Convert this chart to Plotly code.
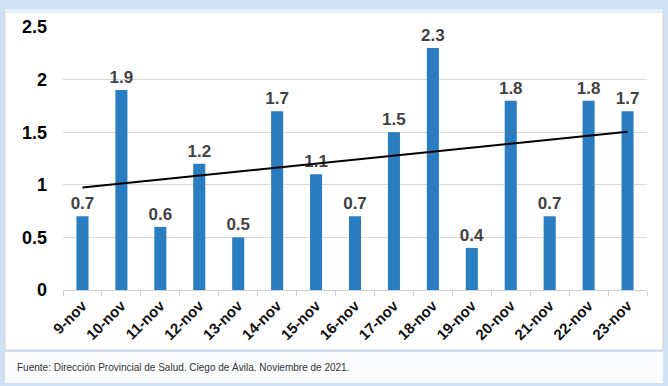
import numpy as np
import plotly.graph_objects as go

categories = ["9-nov", "10-nov", "11-nov", "12-nov", "13-nov", "14-nov", "15-nov", "16-nov",
              "17-nov", "18-nov", "19-nov", "20-nov", "21-nov", "22-nov", "23-nov"]
values = [0.7, 1.9, 0.6, 1.2, 0.5, 1.7, 1.1, 0.7, 1.5, 2.3, 0.4, 1.8, 0.7, 1.8, 1.7]
y_ticks = [0, 0.5, 1, 1.5, 2, 2.5]
y_tick_labels = ["0", "0.5", "1", "1.5", "2", "2.5"]
source_text = "Fuente: Dirección Provincial de Salud. Ciego de Ávila. Noviembre de 2021."

# Linear trendline (least squares, like a spreadsheet trendline)
xi = np.arange(len(values))
slope, intercept = np.polyfit(xi, values, 1)
trend = (slope * xi + intercept).tolist()

W, H = 668, 386
ml, mr, mt, mb = 63, 21, 27, 96
pw, ph = W - ml - mr, H - mt - mb

def px(x):
    return (x - ml) / pw

def py(y):
    return 1 - (y - mt) / ph

fig = go.Figure()
fig.add_trace(go.Bar(
    x=categories, y=values,
    marker=dict(color="#2A7DC0", line=dict(width=0)),
    text=[f"{v:g}" for v in values], textposition="outside",
    constraintext="none",
    textfont=dict(family="Liberation Sans, Arial, sans-serif", size=17, color="#424242"),
    texttemplate="<b>%{text}</b>", cliponaxis=False,
    hoverinfo="skip",
))
fig.add_trace(go.Scatter(
    x=categories, y=trend, mode="lines",
    line=dict(color="black", width=2), hoverinfo="skip",
))

shapes = [
    dict(type="rect", xref="paper", yref="paper", x0=px(5), x1=px(663), y0=py(350), y1=py(12),
         fillcolor="white", line=dict(color="#d4d4d4", width=1), layer="below"),
    dict(type="rect", xref="paper", yref="paper", x0=px(5), x1=px(663), y0=py(383), y1=py(352),
         fillcolor="#fbfcfe", line=dict(width=0), layer="below"),
    dict(type="rect", xref="paper", yref="paper", x0=px(5), x1=px(663), y0=py(12), y1=py(9),
         fillcolor="#e8f1fa", line=dict(width=0), layer="below"),
]

fig.update_layout(
    width=W, height=H,
    margin=dict(l=ml, r=mr, t=mt, b=mb),
    paper_bgcolor="#cfe1f3", plot_bgcolor="rgba(0,0,0,0)",
    showlegend=False, bargap=0.69,
    shapes=shapes,
    annotations=[dict(
        text=source_text, xref="paper", yref="paper", x=px(15), y=py(367),
        xanchor="left", yanchor="middle", showarrow=False,
        font=dict(family="Liberation Sans Narrow, Arial Narrow, sans-serif", size=10, color="#333333"),
    )],
    xaxis=dict(
        type="category", tickangle=-45, tickson="boundaries",
        ticks="outside", ticklen=5, tickcolor="#d0d0d0",
        showline=True, linecolor="#d0d0d0", linewidth=1,
        tickfont=dict(family="Liberation Sans, Arial, sans-serif", size=15, color="#111111"),
        tickvals=categories, ticktext=[f"<b>{c}</b>" for c in categories],
        showgrid=False,
    ),
    yaxis=dict(
        range=[0, 2.5], tickvals=y_ticks, ticktext=[f"<b>{t}</b>" for t in y_tick_labels],
        showgrid=True, gridcolor="#d9d9d9", gridwidth=1, zeroline=False,
        ticks="", ticklabelstandoff=15,
        tickfont=dict(family="Liberation Sans, Arial, sans-serif", size=18, color="#000000"),
    ),
)

fig.write_html("out.html", config={"displayModeBar": False},
               post_script="document.body.style.margin='0px';")
